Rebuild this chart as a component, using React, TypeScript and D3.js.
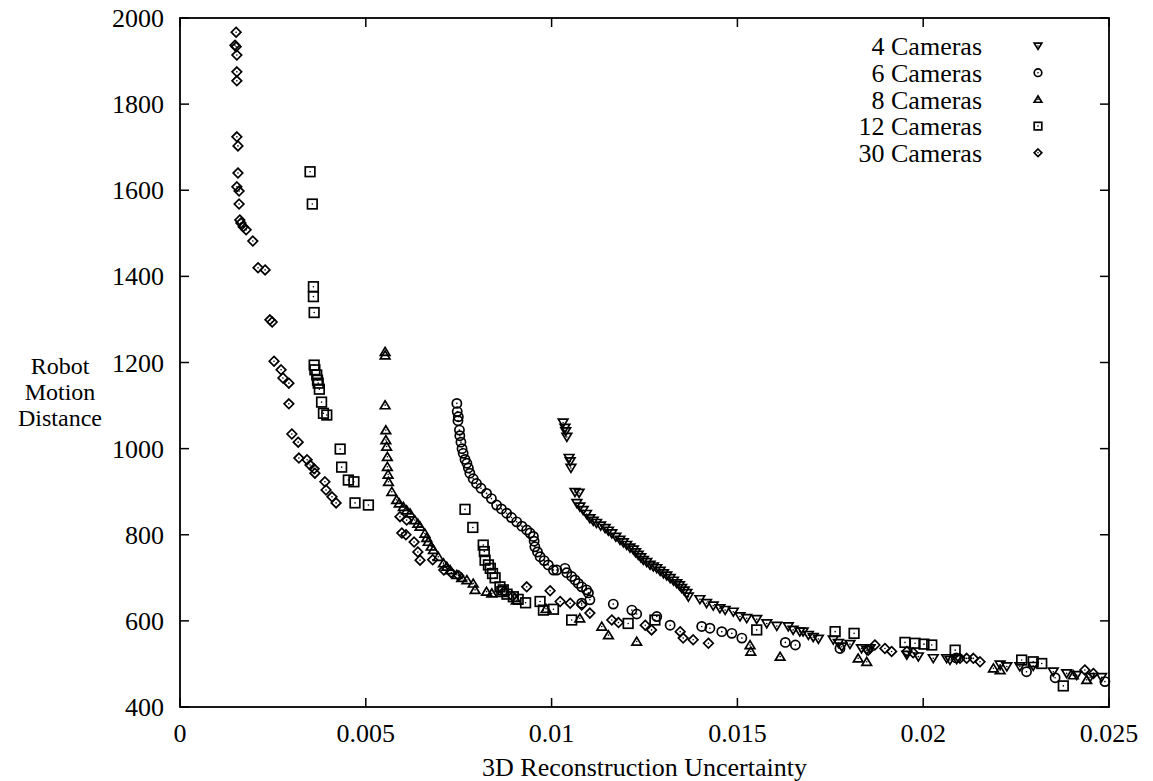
import React from "react";
import * as d3 from "d3";

const xTicks = [0, 0.005, 0.01, 0.015, 0.02, 0.025];
const xTickLabels = ["0", "0.005", "0.01", "0.015", "0.02", "0.025"];
const yTicks = [400, 600, 800, 1000, 1200, 1400, 1600, 1800, 2000];

const seriesNames = ["4 Cameras", "6 Cameras", "8 Cameras", "12 Cameras", "30 Cameras"];
const yTitleLines = ["Robot", "Motion", "Distance"];

const cams4: [number, number][] = [
  [0.01031, 1060], [0.01036, 1048], [0.01038, 1040], [0.01041, 1027], [0.01047, 978], [0.0105, 970], [0.01052, 955],
  [0.01063, 899], [0.01074, 897],
  [0.01068, 873], [0.01076, 865], [0.01085, 857], [0.01094, 848], [0.01103, 838], [0.01112, 832], [0.01121, 827],
  [0.01132, 821], [0.01144, 815], [0.01153, 809], [0.01162, 803], [0.01173, 795], [0.01184, 788], [0.01193, 782],
  [0.01202, 776], [0.01211, 770], [0.0122, 765], [0.01226, 759], [0.01233, 753], [0.0124, 747], [0.01247, 741],
  [0.01256, 736], [0.01265, 730], [0.01274, 726], [0.01283, 722], [0.01292, 716], [0.01301, 710], [0.0131, 705],
  [0.01319, 699], [0.01328, 693], [0.01337, 687], [0.01344, 682], [0.0135, 676], [0.01357, 670], [0.01364, 664],
  [0.01368, 656],
  [0.01399, 650], [0.01417, 641], [0.01435, 635], [0.01453, 629], [0.01467, 625], [0.01489, 621], [0.01507, 610],
  [0.01525, 606], [0.01552, 604], [0.01579, 594], [0.01606, 588], [0.01637, 587], [0.0165, 579], [0.01668, 575],
  [0.01677, 575], [0.01691, 567], [0.01704, 562], [0.01718, 558], [0.01758, 556], [0.01772, 548], [0.01781, 540],
  [0.01803, 546], [0.01834, 536], [0.01848, 532], [0.01857, 536], [0.01956, 521], [0.01987, 517], [0.02027, 513],
  [0.02063, 513], [0.02072, 509], [0.0209, 511], [0.02207, 498], [0.02225, 494], [0.0226, 494], [0.02296, 495],
  [0.0235, 482], [0.02386, 478], [0.02413, 474], [0.02449, 469], [0.0248, 469],
];

const cams6: [number, number][] = [
  [0.00745, 1105], [0.00746, 1086], [0.00749, 1074], [0.00748, 1065], [0.00752, 1043], [0.00753, 1030],
  [0.00756, 1015], [0.00759, 1000], [0.00762, 989], [0.00767, 975], [0.00772, 966], [0.00776, 955], [0.0078, 943],
  [0.00789, 930], [0.00798, 919], [0.0081, 908], [0.00825, 896], [0.00838, 884], [0.00852, 869], [0.00865, 860],
  [0.00879, 850], [0.00892, 840], [0.00906, 830], [0.0092, 820], [0.00933, 811], [0.00942, 804], [0.00951, 796],
  [0.00953, 785], [0.00955, 772], [0.00962, 760], [0.00969, 749], [0.0098, 740], [0.00991, 730], [0.01005, 718],
  [0.01014, 718], [0.01036, 722], [0.01041, 712], [0.01054, 703], [0.01063, 695], [0.01072, 687], [0.01081, 679],
  [0.01094, 672], [0.01099, 665], [0.01103, 649], [0.01081, 641], [0.01166, 639], [0.01216, 625], [0.01229, 616],
  [0.01283, 610], [0.01319, 590], [0.01404, 587], [0.01426, 583], [0.01458, 575], [0.01485, 571], [0.01512, 560],
  [0.01629, 550], [0.01656, 544], [0.01776, 536], [0.02089, 514], [0.02278, 482], [0.02355, 468], [0.02489, 459],
];

const cams8: [number, number][] = [
  [0.00552, 1225], [0.00552, 1217], [0.00552, 1101], [0.00554, 1043], [0.00554, 1020], [0.00556, 1005],
  [0.00558, 981], [0.00558, 958], [0.0056, 940], [0.00561, 923], [0.0057, 900], [0.00583, 881], [0.0059, 873],
  [0.00601, 865], [0.0061, 857], [0.00619, 850], [0.00632, 834], [0.0064, 826], [0.00646, 819], [0.00659, 803],
  [0.00664, 793], [0.00668, 784], [0.00676, 773], [0.00682, 765], [0.00695, 749], [0.00709, 734], [0.00718, 726],
  [0.00727, 718], [0.00745, 707], [0.00758, 700], [0.00772, 695], [0.00789, 687], [0.00794, 672], [0.00825, 668],
  [0.00839, 664], [0.00905, 648], [0.00985, 628], [0.01076, 606], [0.01135, 587], [0.01153, 567], [0.01229, 552],
  [0.01534, 544], [0.01536, 529], [0.01615, 517], [0.01825, 513], [0.01848, 505], [0.02189, 490], [0.02207, 486],
  [0.02404, 474], [0.0244, 463],
];

const cams12: [number, number][] = [
  [0.0035, 1643], [0.00356, 1568], [0.00359, 1376], [0.00359, 1353], [0.00361, 1316], [0.00361, 1194],
  [0.00363, 1183], [0.00368, 1171], [0.0037, 1159], [0.00372, 1152], [0.00375, 1138], [0.00381, 1108],
  [0.00386, 1082], [0.00395, 1078], [0.00431, 999], [0.00435, 957], [0.00453, 927], [0.00468, 923],
  [0.00471, 874], [0.00507, 869],
  [0.00767, 859], [0.00788, 817], [0.00816, 776], [0.00819, 761], [0.00821, 741], [0.0083, 730], [0.00835, 722],
  [0.00841, 710], [0.00848, 700], [0.00861, 679], [0.00866, 668], [0.0087, 672], [0.0088, 662], [0.00897, 656],
  [0.0091, 650], [0.0093, 642], [0.00969, 645], [0.00978, 625], [0.01005, 627], [0.01054, 602], [0.01206, 594],
  [0.01278, 602], [0.01552, 579], [0.01763, 575], [0.01814, 571], [0.01951, 550], [0.01978, 548], [0.02002, 546],
  [0.02023, 544], [0.02086, 532], [0.02265, 509], [0.02296, 505], [0.02319, 501], [0.02377, 449],
];

const cams30: [number, number][] = [
  [0.00151, 1967], [0.00148, 1937], [0.00151, 1933], [0.00153, 1914], [0.00153, 1875], [0.00153, 1854],
  [0.00153, 1724], [0.00156, 1703], [0.00156, 1640], [0.00153, 1608], [0.00159, 1598], [0.00159, 1568],
  [0.00161, 1531], [0.00164, 1524], [0.0017, 1515], [0.00178, 1508], [0.00196, 1482], [0.0021, 1420],
  [0.00229, 1415], [0.00242, 1299], [0.00248, 1294], [0.00253, 1203], [0.00272, 1183], [0.00277, 1164],
  [0.00293, 1152], [0.00293, 1104], [0.00301, 1034], [0.00318, 1015], [0.0032, 978], [0.00342, 974],
  [0.0035, 962], [0.00361, 953], [0.00363, 943], [0.0039, 923], [0.00393, 904], [0.00409, 888], [0.0042, 874],
  [0.00592, 842], [0.0061, 834], [0.00597, 804], [0.00608, 800], [0.0063, 783], [0.0064, 760], [0.00646, 741],
  [0.0068, 742], [0.0071, 718], [0.0073, 712], [0.0075, 705], [0.00872, 668], [0.00895, 657], [0.00933, 679],
  [0.00996, 670], [0.01023, 645], [0.0105, 641], [0.01081, 637], [0.01103, 618], [0.01162, 602], [0.0118, 596],
  [0.01252, 590], [0.01269, 579], [0.01346, 575], [0.01354, 560], [0.01381, 556], [0.01422, 548], [0.01852, 532],
  [0.0187, 544], [0.01897, 536], [0.01915, 529], [0.01956, 529], [0.01973, 526], [0.02099, 513], [0.02117, 513],
  [0.02135, 513], [0.02153, 505], [0.02435, 486], [0.02458, 478],
];

const allSeries = [cams4, cams6, cams8, cams12, cams30];

const W = 1153;
const H = 781;
const left = 180, right = 1109, top = 18, bottom = 707;
const FONT = "'Liberation Serif', 'Times New Roman', serif";

function Marker({ kind, s }: { kind: number; s: number }) {
  const common = { fill: "none", stroke: "#000", strokeWidth: 1.7 };
  let shape: React.ReactNode = null;
  if (kind === 0) {
    shape = <path d={`M0,${s * 0.9} L${-s},${-s * 0.75} L${s},${-s * 0.75} Z`} {...common} />;
  } else if (kind === 1) {
    shape = <circle r={s} {...common} />;
  } else if (kind === 2) {
    shape = <path d={`M0,${-s * 0.9} L${-s},${s * 0.75} L${s},${s * 0.75} Z`} {...common} />;
  } else if (kind === 3) {
    shape = <rect x={-s} y={-s} width={2 * s} height={2 * s} {...common} />;
  } else {
    shape = <path d={`M0,${-s} L${s},0 L0,${s} L${-s},0 Z`} {...common} />;
  }
  return (
    <g>
      {shape}
      <circle r={0.8} fill="#000" />
    </g>
  );
}

export default function App() {
  const x = d3.scaleLinear().domain([0, 0.025]).range([left, right]);
  const y = d3.scaleLinear().domain([400, 2000]).range([bottom, top]);
  const sizes = [4.8, 4.6, 4.8, 4.8, 4.8];
  return (
    <svg width={W} height={H} style={{ position: "absolute", left: 0, top: 0, background: "#fff", fontFamily: FONT }}>
      <rect x={0} y={0} width={W} height={H} fill="#fff" />
      {/* frame */}
      <rect x={left} y={top} width={right - left} height={bottom - top} fill="none" stroke="#000" strokeWidth={1.8} />
      {/* y ticks */}
      {yTicks.map((t) => (
        <g key={"y" + t}>
          <line x1={left} x2={left + 9} y1={y(t)} y2={y(t)} stroke="#000" strokeWidth={1.5} />
          <line x1={right} x2={right - 9} y1={y(t)} y2={y(t)} stroke="#000" strokeWidth={1.5} />
          <text x={164} y={y(t)} dy="0.35em" textAnchor="end" fontSize={26}>{t}</text>
        </g>
      ))}
      {/* x ticks */}
      {xTicks.map((t, i) => (
        <g key={"x" + i}>
          <line x1={x(t)} x2={x(t)} y1={bottom} y2={bottom - 9} stroke="#000" strokeWidth={1.5} />
          <line x1={x(t)} x2={x(t)} y1={top} y2={top + 9} stroke="#000" strokeWidth={1.5} />
          <text x={x(t)} y={742} textAnchor="middle" fontSize={26}>{xTickLabels[i]}</text>
        </g>
      ))}
      {/* axis titles */}
      <text x={(left + right) / 2} y={776} textAnchor="middle" fontSize={26}>3D Reconstruction Uncertainty</text>
      {yTitleLines.map((l, i) => (
        <text key={l} x={60} y={366 + i * 26} dy="0.35em" textAnchor="middle" fontSize={24}>{l}</text>
      ))}
      {/* data */}
      {allSeries.map((ser, k) => (
        <g key={"s" + k}>
          {ser.map((d, i) => (
            <g key={i} transform={`translate(${x(d[0])},${y(d[1])})`}>
              <Marker kind={k} s={sizes[k]} />
            </g>
          ))}
        </g>
      ))}
      {/* legend */}
      {seriesNames.map((n, k) => (
        <g key={"l" + k}>
          <text x={982} y={46 + k * 26.7} dy="0.35em" textAnchor="end" fontSize={26}>{n}</text>
          <g transform={`translate(1038,${46 + k * 26.7})`}>
            <Marker kind={k} s={3.8} />
          </g>
        </g>
      ))}
    </svg>
  );
}
